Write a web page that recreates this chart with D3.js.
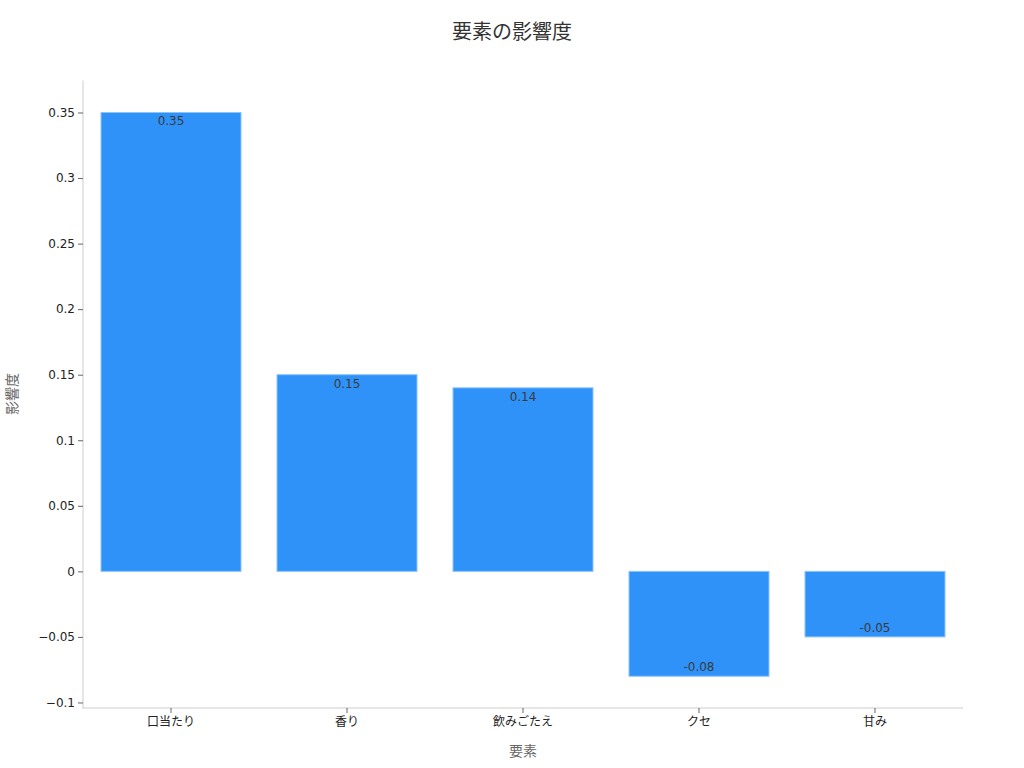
<!DOCTYPE html>
<html><head><meta charset="utf-8">
<script src="https://cdn.jsdelivr.net/npm/d3@7"></script>
<style>
body{margin:0;background:#fff;}
text{font-family:"DejaVu Sans","Noto Sans CJK JP",sans-serif;}
</style></head>
<body><svg id="c" width="1024" height="768"></svg>
<script>
const categories = ["口当たり","香り","飲みごたえ","クセ","甘み"];
const values = [0.35, 0.15, 0.14, -0.08, -0.05];
const yTicks = [-0.1,-0.05,0,0.05,0.1,0.15,0.2,0.25,0.3,0.35];
const title = "要素の影響度";
const xTitle = "要素";
const yTitle = "影響度";

(function(){
const svg = d3.select("#c");
const mLeft = 83, mRight = 963, mTop = 80, mBottom = 708;
const x = d3.scaleBand().domain(categories).range([mLeft, mRight]).paddingInner(0.2045).paddingOuter(0.1023);
const y = d3.scaleLinear().domain([-0.1046, 0.3744]).range([mBottom, mTop]);

svg.append("text").attr("x",512).attr("y",39).attr("text-anchor","middle")
  .attr("font-size",20).attr("fill","#333").text(title);

svg.append("g").selectAll("rect").data(values).join("rect")
  .attr("x",(d,i)=>x(categories[i]))
  .attr("width",x.bandwidth())
  .attr("y",d=>y(Math.max(0,d))+0.5)
  .attr("height",d=>Math.abs(y(d)-y(0)))
  .attr("fill","#2f92f9").attr("stroke","#8cc4fb").attr("stroke-width",1);

svg.append("g").selectAll("text").data(values).join("text")
  .attr("x",(d,i)=>x(categories[i])+x.bandwidth()/2)
  .attr("y",d=> d>=0 ? y(d)+13.5 : y(d)-4.5)
  .attr("text-anchor","middle").attr("font-size",12).attr("fill","#3a3a3a")
  .text(d=>String(d));

const yAxis = svg.append("g").attr("transform",`translate(${mLeft},0.5)`)
  .call(d3.axisLeft(y).tickValues(yTicks).tickSize(5).tickPadding(3).tickFormat(d3.format("")));
yAxis.select(".domain").attr("stroke","#ccc").attr("d",`M0,${mTop}V${mBottom}`);
yAxis.selectAll(".tick line").attr("stroke","#666");
yAxis.selectAll(".tick text").attr("font-size",12).attr("fill","#222").attr("font-family","DejaVu Sans");

const xAxis = svg.append("g").attr("transform",`translate(0,${mBottom})`)
  .call(d3.axisBottom(x).tickSize(5).tickPadding(4));
xAxis.select(".domain").attr("stroke","#ccc").attr("d",`M${mLeft},0H${mRight}`);
xAxis.selectAll(".tick line").attr("stroke","#666");
xAxis.selectAll(".tick text").attr("font-size",12).attr("fill","#222").attr("font-family","Noto Sans CJK JP");

svg.append("text").attr("x",(mLeft+mRight)/2).attr("y",756).attr("text-anchor","middle")
  .attr("font-size",14).attr("fill","#666").attr("font-family","Noto Sans CJK JP").text(xTitle);
svg.append("text").attr("transform","translate(17,394) rotate(-90)").attr("text-anchor","middle")
  .attr("font-size",14).attr("fill","#666").attr("font-family","Noto Sans CJK JP").text(yTitle);
})();
</script></body></html>
